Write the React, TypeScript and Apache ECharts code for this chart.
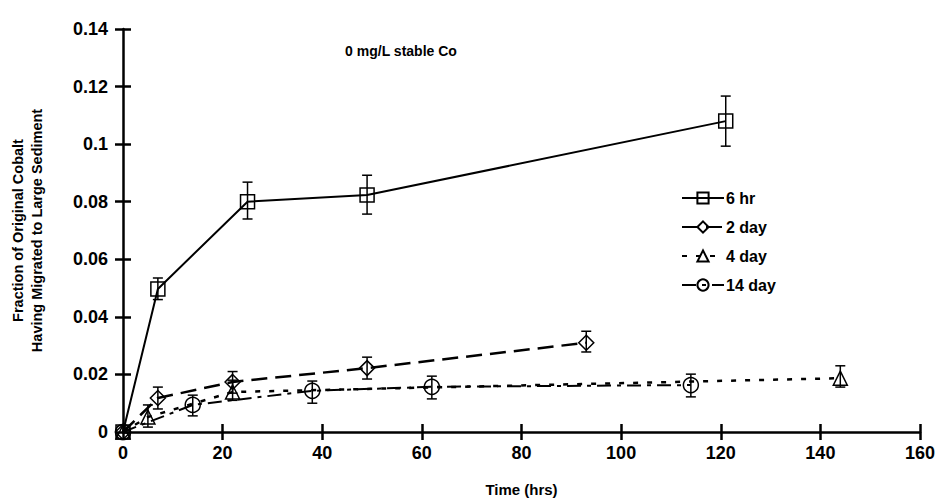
import React, { useEffect, useRef } from "react";
import * as echarts from "echarts";

const seriesNames = ["6 hr", "2 day", "4 day", "14 day"];

const sixHrX = [0, 7, 25, 49, 121];
const sixHrY = [0, 0.0497, 0.08, 0.0823, 0.108];
const sixHrLo = [0, 0.046, 0.074, 0.0757, 0.0993];
const sixHrHi = [0, 0.0535, 0.0868, 0.0892, 0.1167];

const twoDayX = [0, 7, 22, 49, 93];
const twoDayY = [0, 0.0118, 0.0174, 0.0222, 0.031];
const twoDayLo = [0, 0.008, 0.0135, 0.0184, 0.0278];
const twoDayHi = [0, 0.0156, 0.021, 0.026, 0.035];

const fourDayX = [0, 5, 22, 144];
const fourDayY = [0, 0.0052, 0.0139, 0.0187];
const fourDayLo = [0, 0.0017, 0.011, 0.0156];
const fourDayHi = [0, 0.0094, 0.018, 0.023];

const fourteenDayX = [0, 14, 38, 62, 114];
const fourteenDayY = [0, 0.0094, 0.0143, 0.0157, 0.0163];
const fourteenDayLo = [0, 0.0056, 0.01, 0.0115, 0.0122];
const fourteenDayHi = [0, 0.0128, 0.0177, 0.0194, 0.0201];

const titleText = "0 mg/L stable Co";
const xTitle = "Time (hrs)";
const yTitle = "Fraction of Original Cobalt\nHaving Migrated to Large Sediment";

const FONT = "'Liberation Sans', Arial, sans-serif";

function pts(xs: number[], ys: number[]) {
  return xs.map((x, i) => [x, ys[i]]);
}
function errs(xs: number[], lo: number[], hi: number[]) {
  return xs.map((x, i) => [x, lo[i], hi[i]]);
}

export default function App() {
  const ref = useRef<HTMLDivElement>(null);
  useEffect(() => {
    if (!ref.current) return;
    const chart = echarts.init(ref.current, undefined, { renderer: "svg" });

    const lineSeries = (
      name: string,
      xs: number[],
      ys: number[],
      symbol: string,
      size: number,
      type: any,
      width: number
    ) => ({
      name,
      type: "line",
      data: pts(xs, ys),
      symbol,
      symbolSize: size,
      lineStyle: { color: "#000", width, type },
      itemStyle: { color: "rgba(255,255,255,0)", borderColor: "#000", borderWidth: 1.5 },
      z: 3,
    });

    const errSeries = (xs: number[], lo: number[], hi: number[]) => ({
      type: "custom",
      data: errs(xs, lo, hi),
      z: 4,
      silent: true,
      renderItem: (params: any, api: any) => {
        const x = api.value(0);
        const l = api.value(1);
        const h = api.value(2);
        if (h - l <= 0) return null;
        const p1 = api.coord([x, l]);
        const p2 = api.coord([x, h]);
        const cw = 5;
        const st = { stroke: "#000", lineWidth: 1.5 };
        return {
          type: "group",
          children: [
            { type: "line", shape: { x1: p1[0], y1: p1[1], x2: p2[0], y2: p2[1] }, style: st },
            { type: "line", shape: { x1: p1[0] - cw, y1: p1[1], x2: p1[0] + cw, y2: p1[1] }, style: st },
            { type: "line", shape: { x1: p2[0] - cw, y1: p2[1], x2: p2[0] + cw, y2: p2[1] }, style: st },
          ],
        };
      },
    });

    const axisLabel = { color: "#000", fontFamily: FONT, fontWeight: "bold", fontSize: 18 };

    chart.setOption({
      animation: false,
      backgroundColor: "#fff",
      title: {
        text: titleText,
        left: 396,
        top: 39,
        textAlign: "center",
        textStyle: { fontFamily: FONT, fontWeight: "bold", fontSize: 14, color: "#000" },
      },
      grid: { left: 121, right: 19, top: 29, bottom: 70, containLabel: false },
      legend: {
        orient: "vertical",
        left: 676,
        top: 185,
        itemWidth: 42,
        itemHeight: 14,
        itemGap: 13,
        data: seriesNames,
        textStyle: { fontFamily: FONT, fontWeight: "bold", fontSize: 16, color: "#000", padding: [0, 0, 0, -3] },
      },
      xAxis: [
        {
          type: "value",
          min: 0,
          max: 160,
          interval: 20,
          name: xTitle,
          nameLocation: "middle",
          nameGap: 50,
          nameTextStyle: { fontFamily: FONT, fontWeight: "bold", fontSize: 15, color: "#000" },
          axisLine: { show: true, onZero: false, lineStyle: { color: "#000", width: 2.5 } },
          axisTick: { show: true, length: 8, lineStyle: { color: "#000", width: 2.5 } },
          axisLabel: { ...axisLabel, margin: 12 },
          splitLine: { show: false },
        },
        {
          type: "value",
          min: 0,
          max: 160,
          interval: 20,
          position: "bottom",
          axisLine: { show: false },
          axisTick: { show: true, inside: true, length: 8, lineStyle: { color: "#000", width: 2.5 } },
          axisLabel: { show: false },
          splitLine: { show: false },
        },
      ],
      yAxis: [
        {
          type: "value",
          min: 0,
          max: 0.14,
          interval: 0.02,
          name: yTitle,
          nameLocation: "middle",
          nameRotate: 90,
          nameGap: 77,
          nameTextStyle: { fontFamily: FONT, fontWeight: "bold", fontSize: 14.5, color: "#000", lineHeight: 19 },
          axisLine: { show: true, onZero: false, lineStyle: { color: "#000", width: 2.5 } },
          axisTick: { show: true, length: 8, lineStyle: { color: "#000", width: 2.5 } },
          axisLabel: { ...axisLabel, margin: 15 },
          splitLine: { show: false },
        },
        {
          type: "value",
          min: 0,
          max: 0.14,
          interval: 0.02,
          position: "left",
          axisLine: { show: false },
          axisTick: { show: true, inside: true, length: 8, lineStyle: { color: "#000", width: 2.5 } },
          axisLabel: { show: false },
          splitLine: { show: false },
        },
      ],
      series: [
        lineSeries(seriesNames[0], sixHrX, sixHrY, "rect", 14, "solid", 2),
        lineSeries(seriesNames[1], twoDayX, twoDayY, "diamond", 15, [16, 8], 2.5),
        lineSeries(seriesNames[2], fourDayX, fourDayY, "triangle", 14, [5, 9], 2.5),
        lineSeries(seriesNames[3], fourteenDayX, fourteenDayY, "circle", 15, [14, 6, 4, 6], 2),
        errSeries(sixHrX, sixHrLo, sixHrHi),
        errSeries(twoDayX, twoDayLo, twoDayHi),
        errSeries(fourDayX, fourDayLo, fourDayHi),
        errSeries(fourteenDayX, fourteenDayLo, fourteenDayHi),
      ],
    });
    return () => chart.dispose();
  }, []);
  return (
    <div
      ref={ref}
      style={{ position: "fixed", left: 0, top: 0, width: 939, height: 502, overflow: "hidden" }}
    />
  );
}
